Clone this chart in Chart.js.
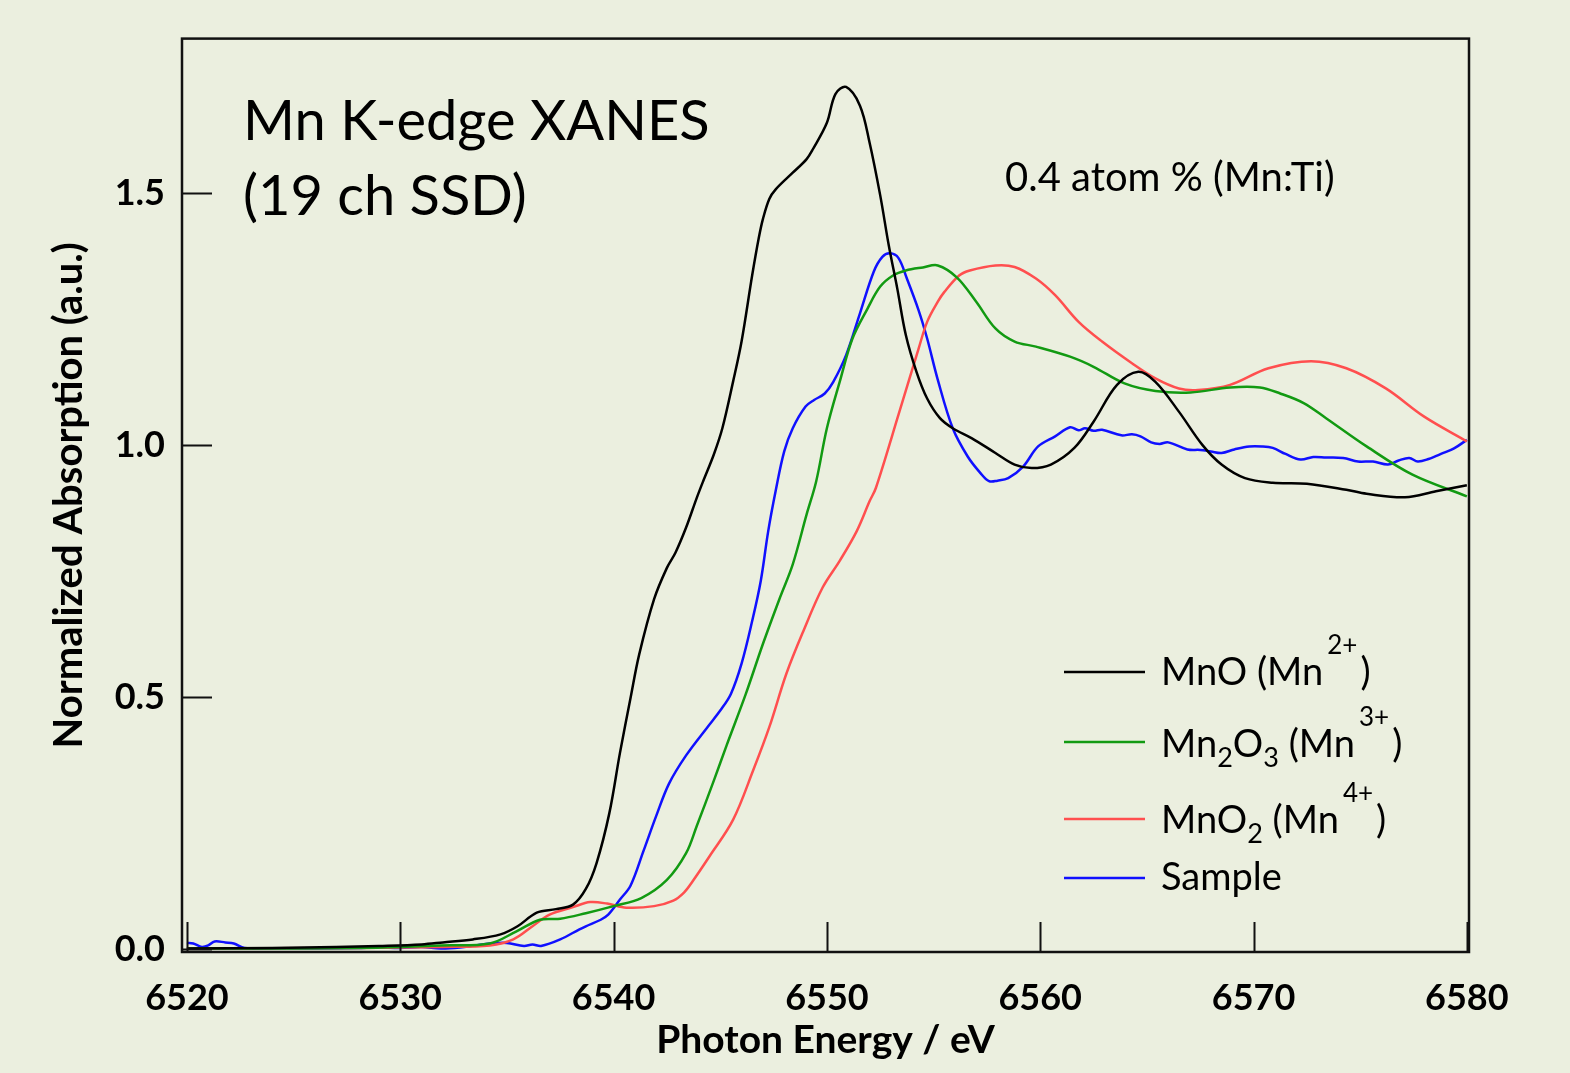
<!DOCTYPE html>
<html>
<head>
<meta charset="utf-8">
<script src="https://cdn.jsdelivr.net/npm/chart.js@4"></script>
<style>
  html, body { margin: 0; padding: 0; background: #ebefdf; }
  canvas { display: block; }
</style>
</head>
<body>
<canvas id="xanes" width="1570" height="1073"></canvas>
<script>
// Mn K-edge XANES, normalized absorption vs photon energy (eV)
const xTicks = [6520, 6530, 6540, 6550, 6560, 6570, 6580];
const yTicks = [0, 0.5, 1.0, 1.5];

// MnO (Mn2+)
const mnoE = [6520, 6524, 6527, 6529, 6531, 6532, 6533.4, 6534.7, 6535.5, 6536.4, 6537.3, 6538.1, 6538.7, 6539.2, 6539.8, 6540.3, 6540.8, 6541.2, 6541.9, 6542.5, 6542.9, 6543.4, 6543.9, 6544.2, 6544.7, 6545.1, 6545.6, 6546.0, 6546.5, 6546.8, 6547.0, 6547.3, 6547.6, 6548.4, 6549.05, 6549.35, 6550.0, 6550.4, 6550.9, 6551.55, 6552.0, 6552.5, 6552.9, 6553.3, 6553.7, 6554.2, 6554.7, 6555.3, 6555.9, 6556.8, 6557.9, 6558.8, 6559.6, 6560.5, 6561.6, 6562.5, 6563.6, 6564.6, 6565.4, 6566.5, 6567.6, 6568.5, 6569.6, 6570.9, 6572.5, 6574.35, 6575.3, 6577.1, 6578.55, 6580];
const mnoAbs = [0.002, 0.003, 0.005, 0.007, 0.010, 0.014, 0.020, 0.030, 0.046, 0.073, 0.080, 0.089, 0.120, 0.171, 0.270, 0.390, 0.500, 0.585, 0.695, 0.757, 0.787, 0.837, 0.896, 0.929, 0.982, 1.034, 1.126, 1.206, 1.338, 1.410, 1.449, 1.489, 1.508, 1.541, 1.568, 1.588, 1.640, 1.697, 1.711, 1.674, 1.601, 1.496, 1.397, 1.311, 1.219, 1.146, 1.093, 1.054, 1.034, 1.014, 0.985, 0.962, 0.955, 0.962, 0.995, 1.047, 1.120, 1.146, 1.126, 1.067, 1.001, 0.962, 0.935, 0.926, 0.924, 0.912, 0.904, 0.897, 0.909, 0.921];

// Mn2O3 (Mn3+)
const mn2o3E = [6520, 6525, 6528, 6530, 6531.9, 6534.2, 6535.45, 6536.55, 6537.5, 6538.7, 6540.0, 6541.3, 6542.5, 6543.4, 6543.9, 6544.7, 6545.3, 6546.2, 6547.0, 6547.8, 6548.4, 6549.05, 6549.5, 6550.0, 6550.6, 6551.2, 6551.9, 6552.5, 6553.1, 6553.7, 6554.5, 6555.2, 6556.1, 6557.0, 6557.9, 6558.8, 6559.8, 6561.4, 6562.5, 6563.95, 6565.4, 6567.05, 6568.9, 6570.3, 6571.25, 6572.35, 6573.4, 6575.3, 6577.45, 6580];
const mn2o3Abs = [0.002, 0.002, 0.003, 0.005, 0.008, 0.012, 0.036, 0.059, 0.061, 0.072, 0.086, 0.102, 0.138, 0.191, 0.245, 0.335, 0.405, 0.507, 0.606, 0.698, 0.764, 0.863, 0.929, 1.034, 1.126, 1.212, 1.271, 1.315, 1.337, 1.347, 1.353, 1.357, 1.333, 1.285, 1.232, 1.206, 1.196, 1.176, 1.156, 1.123, 1.108, 1.105, 1.115, 1.115, 1.103, 1.084, 1.054, 0.998, 0.942, 0.899];

// MnO2 (Mn4+)
const mno2E = [6520, 6528, 6532, 6534.2, 6535.3, 6536.2, 6537.0, 6538.1, 6538.9, 6539.7, 6540.6, 6541.9, 6542.8, 6543.3, 6543.7, 6544.5, 6545.6, 6546.55, 6547.3, 6548.1, 6548.9, 6549.8, 6550.6, 6551.4, 6552.0, 6552.3, 6553.4, 6554.3, 6554.7, 6555.2, 6555.5, 6556.2, 6556.7, 6557.9, 6558.8, 6559.8, 6560.7, 6561.8, 6562.9, 6564.3, 6565.4, 6566.5, 6567.4, 6568.9, 6570.7, 6572.7, 6574.35, 6576.2, 6578.0, 6580];
const mno2Abs = [0.002, 0.003, 0.005, 0.008, 0.020, 0.046, 0.069, 0.084, 0.094, 0.091, 0.083, 0.086, 0.097, 0.113, 0.135, 0.185, 0.257, 0.356, 0.441, 0.547, 0.632, 0.718, 0.771, 0.830, 0.889, 0.916, 1.067, 1.192, 1.245, 1.285, 1.304, 1.337, 1.347, 1.357, 1.354, 1.331, 1.298, 1.245, 1.206, 1.163, 1.133, 1.113, 1.110, 1.120, 1.153, 1.167, 1.153, 1.113, 1.057, 1.008];

// Sample, 0.4 atom % (Mn:Ti)
const sampleE = [6520.0, 6520.3, 6520.7, 6521.0, 6521.3, 6521.8, 6522.2, 6522.7, 6524, 6526, 6528, 6529, 6530, 6531, 6531.9, 6532.8, 6533.5, 6534.2, 6535.0, 6535.8, 6536.2, 6536.6, 6537.5, 6538.4, 6538.7, 6539.4, 6539.75, 6540.3, 6540.8, 6541.4, 6542.0, 6542.6, 6543.4, 6544.4, 6545.0, 6545.5, 6546.0, 6546.5, 6546.9, 6547.25, 6547.6, 6548.0, 6548.4, 6549.0, 6549.4, 6549.9, 6550.3, 6550.9, 6551.55, 6552.2, 6552.6, 6552.95, 6553.35, 6553.75, 6554.3, 6554.7, 6555.2, 6555.9, 6556.6, 6557.2, 6557.6, 6558.0, 6558.5, 6559.2, 6559.9, 6560.7, 6561.4, 6561.8, 6562.1, 6562.5, 6562.9, 6563.8, 6564.3, 6564.7, 6565.2, 6565.6, 6566.0, 6566.9, 6567.5, 6568.0, 6568.5, 6569.1, 6569.8, 6570.4, 6570.9, 6571.5, 6572.2, 6572.8, 6573.4, 6574.2, 6574.9, 6575.6, 6576.3, 6576.8, 6577.3, 6577.7, 6578.2, 6578.9, 6579.4, 6580.0];
const sampleAbs = [0.013, 0.012, 0.005, 0.008, 0.016, 0.014, 0.012, 0.003, 0.002, 0.002, 0.003, 0.004, 0.003, 0.005, 0.002, 0.004, 0.008, 0.012, 0.013, 0.007, 0.010, 0.007, 0.020, 0.040, 0.046, 0.059, 0.069, 0.099, 0.127, 0.195, 0.265, 0.329, 0.385, 0.441, 0.474, 0.507, 0.567, 0.652, 0.731, 0.830, 0.910, 0.988, 1.034, 1.077, 1.090, 1.103, 1.126, 1.179, 1.262, 1.345, 1.374, 1.381, 1.372, 1.331, 1.268, 1.212, 1.130, 1.034, 0.978, 0.945, 0.929, 0.930, 0.935, 0.958, 0.998, 1.018, 1.036, 1.030, 1.034, 1.029, 1.031, 1.020, 1.022, 1.018, 1.006, 1.003, 1.006, 0.992, 0.991, 0.988, 0.985, 0.992, 0.998, 0.998, 0.995, 0.983, 0.972, 0.977, 0.976, 0.975, 0.968, 0.968, 0.962, 0.970, 0.975, 0.968, 0.973, 0.985, 0.994, 1.011];

const FONT = 'Lato, "Open Sans", sans-serif';

function toPoints(xs, ys) {
  return xs.map((x, i) => ({ x: x, y: ys[i] }));
}

const series = [
  { label: 'MnO (Mn2+)', e: mnoE, a: mnoAbs, color: '#000000' },
  { label: 'Mn2O3 (Mn3+)', e: mn2o3E, a: mn2o3Abs, color: '#129a12' },
  { label: 'MnO2 (Mn4+)', e: mno2E, a: mno2Abs, color: '#ff4f4f' },
  { label: 'Sample', e: sampleE, a: sampleAbs, color: '#1010ff' }
];

// legend rows: pieces of text with sub/superscripts
const legendRows = [
  [{ t: 'MnO (Mn' }, { t: '2+', sup: true }, { t: ')' }],
  [{ t: 'Mn' }, { t: '2', sub: true }, { t: 'O' }, { t: '3', sub: true }, { t: ' (Mn' }, { t: '3+', sup: true }, { t: ')' }],
  [{ t: 'MnO' }, { t: '2', sub: true }, { t: ' (Mn' }, { t: '4+', sup: true }, { t: ')' }],
  [{ t: 'Sample' }]
];
const legendLineY = [672, 742, 819, 878];
const legendTextY = [685, 757, 833, 890];

// box, inward ticks, labels and legend
const decorations = {
  id: 'decorations',
  afterDatasetsDraw(chart) {
    const { ctx, chartArea: a, scales: { x, y } } = chart;
    ctx.save();
    ctx.strokeStyle = '#111';
    ctx.lineWidth = 2;
    ctx.beginPath();
    xTicks.forEach(v => {
      const px = Math.round(x.getPixelForValue(v)) + 0.5;
      ctx.moveTo(px, a.bottom);
      ctx.lineTo(px, a.bottom - 30);
    });
    yTicks.forEach(v => {
      const py = Math.round(y.getPixelForValue(v)) + 0.5;
      ctx.moveTo(a.left, py);
      ctx.lineTo(a.left + 30, py);
    });
    ctx.stroke();

    ctx.lineWidth = 2.5;
    ctx.strokeRect(a.left, a.top, a.right - a.left, a.bottom - a.top);

    ctx.fillStyle = '#000';
    ctx.textBaseline = 'alphabetic';
    ctx.textAlign = 'left';
    ctx.font = '56px ' + FONT;
    ctx.fillText('Mn K-edge XANES', 243, 140);
    ctx.fillText('(19 ch SSD)', 243, 215);
    ctx.font = '40px ' + FONT;
    ctx.fillText('0.4 atom % (Mn:Ti)', 1005, 191);

    legendRows.forEach((row, i) => {
      ctx.strokeStyle = series[i].color;
      ctx.lineWidth = 2.5;
      ctx.beginPath();
      ctx.moveTo(1064, legendLineY[i]);
      ctx.lineTo(1145, legendLineY[i]);
      ctx.stroke();
      let cx = 1161;
      row.forEach(p => {
        let by = legendTextY[i];
        if (p.sup) { ctx.font = '26px ' + FONT; by -= 31; cx += 4; }
        else if (p.sub) { ctx.font = '27px ' + FONT; by += 10; }
        else ctx.font = '38px ' + FONT;
        ctx.fillText(p.t, cx, by);
        cx += ctx.measureText(p.t).width + (p.sup ? 3 : 0);
      });
    });
    ctx.restore();
  }
};

const ctx = document.getElementById('xanes').getContext('2d');

new Chart(ctx, {
  type: 'line',
  data: {
    datasets: series.map(s => ({
      label: s.label,
      data: toPoints(s.e, s.a),
      borderColor: s.color,
      borderWidth: 2.5,
      pointRadius: 0,
      fill: false,
      tension: 0.35
    }))
  },
  options: {
    responsive: false,
    animation: false,
    layout: { padding: { top: 35, right: 101, bottom: 0, left: 0 } },
    plugins: {
      legend: { display: false },
      tooltip: { enabled: false }
    },
    scales: {
      x: {
        type: 'linear',
        min: 6519.77,
        max: 6580.1,
        grid: { display: false, drawTicks: false },
        border: { display: false },
        afterBuildTicks: s => { s.ticks = xTicks.map(v => ({ value: v })); },
        afterFit: s => { s.height = 121; },
        ticks: {
          padding: 25,
          color: '#000',
          maxRotation: 0,
          font: { family: FONT, size: 36, weight: 'bold' },
          callback: v => String(v)
        },
        title: {
          display: true,
          text: 'Photon Energy / eV',
          color: '#000',
          padding: { top: 0, bottom: 9 },
          font: { family: FONT, size: 39, weight: 'bold' }
        }
      },
      y: {
        min: -0.005,
        max: 1.807,
        grid: { display: false, drawTicks: false },
        border: { display: false },
        afterBuildTicks: s => { s.ticks = yTicks.map(v => ({ value: v })); },
        afterFit: s => { s.width = 182; },
        ticks: {
          padding: 17,
          color: '#000',
          font: { family: FONT, size: 36, weight: 'bold' },
          callback: v => v.toFixed(1)
        },
        title: {
          display: true,
          text: 'Normalized Absorption (a.u.)',
          color: '#000',
          padding: { top: 45, bottom: 0 },
          font: { family: FONT, size: 40, weight: 'bold' }
        }
      }
    }
  },
  plugins: [decorations]
});
</script>
</body>
</html>
